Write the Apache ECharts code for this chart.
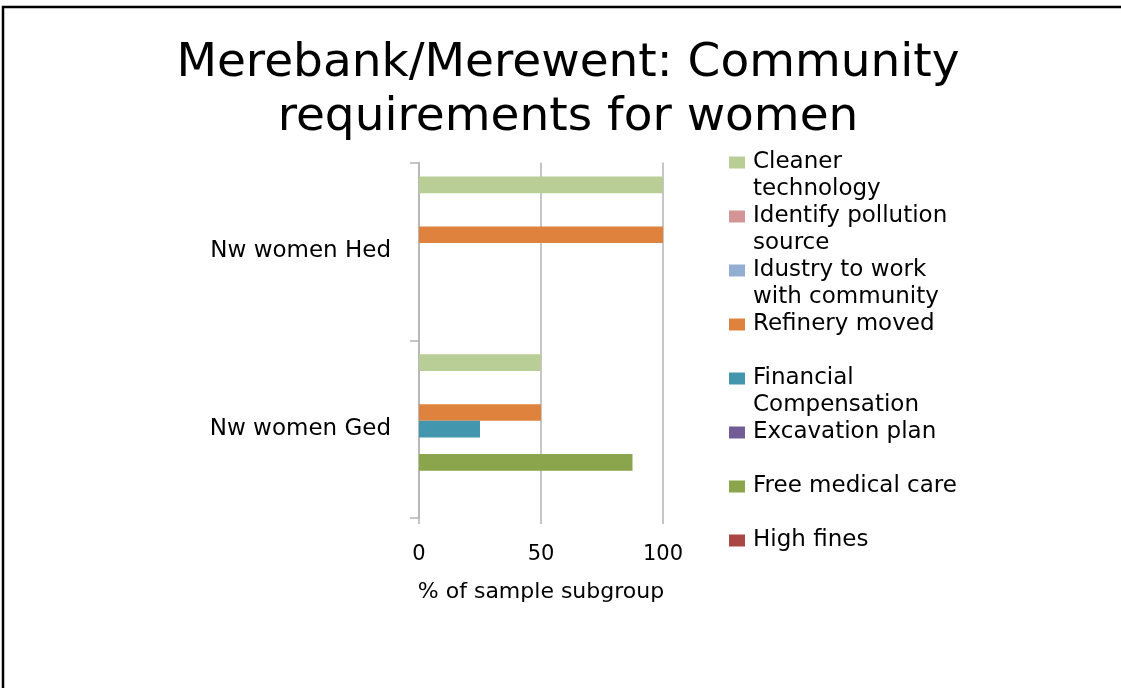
<!DOCTYPE html>
<html>
<head>
<meta charset="utf-8">
<title>Merebank/Merewent: Community requirements for women</title>
<script src="https://cdn.jsdelivr.net/npm/echarts@6/dist/echarts.min.js"></script>
<style>
  html, body { margin: 0; padding: 0; background: #fff; }
  #chart { width: 1121px; height: 688px; }
</style>
</head>
<body>
<div id="chart"></div>
<script>
// categories, bottom to top
var categories = ["Nw women Ged", "Nw women Hed"];

var seriesNames = [
  "Cleaner technology",
  "Identify pollution source",
  "Idustry to work with community",
  "Refinery moved",
  "Financial Compensation",
  "Excavation plan",
  "Free medical care",
  "High fines"
];
// legend text as wrapped in the original
var legendLabels = [
  "Cleaner\ntechnology",
  "Identify pollution\nsource",
  "Idustry to work\nwith community",
  "Refinery moved\n ",
  "Financial\nCompensation",
  "Excavation plan\n ",
  "Free medical care\n ",
  "High fines\n "
];

// % of sample subgroup, [Ged, Hed]
var cleanerTechnology = [50, 100];
var identifyPollution = [0, 0];
var industryWithCommunity = [0, 0];
var refineryMoved = [50, 100];
var financialCompensation = [25, 0];
var excavationPlan = [0, 0];
var freeMedicalCare = [87.5, 0];
var highFines = [0, 0];

var xTicks = [0, 50, 100];

var colors = ["#B9CE97", "#D39595", "#94ADD2", "#DE823E", "#4297AF", "#735B95", "#8AA54C", "#AA4643"];
var FONT = "DejaVu Sans";
var GRID_LINE = "#B3B3B3";

var values = [cleanerTechnology, identifyPollution, industryWithCommunity, refineryMoved,
  financialCompensation, excavationPlan, freeMedicalCare, highFines];

var series = seriesNames.map(function (name, i) {
  return {
    name: name,
    type: "bar",
    data: values[i],
    barGap: "0%",
    barCategoryGap: "15.8%",
    itemStyle: { color: colors[i] }
  };
});
// the original keeps one empty slot at the end of each group
series.push({ name: "blank", type: "bar", data: [], silent: true });

var chart = echarts.init(document.getElementById("chart"));

var option = {
  animation: false,
  backgroundColor: "#fff",
  title: {
    text: "Merebank/Merewent: Community\nrequirements for women",
    left: 568,
    top: 37,
    textAlign: "center",
    padding: 0,
    textStyle: { fontFamily: FONT, fontSize: 47, fontWeight: "normal", lineHeight: 54, color: "#000" }
  },
  legend: {
    orient: "vertical",
    left: 729,
    top: 122,
    padding: 0,
    itemGap: -27,
    itemWidth: 16,
    itemHeight: 12,
    icon: "rect",
    selectedMode: false,
    data: seriesNames,
    // blank first line keeps the square level with the first text line
    formatter: function (name) {
      return " \n" + legendLabels[seriesNames.indexOf(name)];
    },
    textStyle: { fontFamily: FONT, fontSize: 23, lineHeight: 27, color: "#000", padding: [0, 0, 0, 3] }
  },
  grid: {
    left: 419,
    right: 458,
    top: 162.5,
    bottom: 170,
    containLabel: false,
    outerBoundsMode: "none"
  },
  xAxis: {
    type: "value",
    min: xTicks[0],
    max: xTicks[xTicks.length - 1],
    interval: xTicks[1] - xTicks[0],
    name: "% of sample subgroup",
    nameLocation: "middle",
    nameGap: 63,
    nameTextStyle: { fontFamily: FONT, fontSize: 22, color: "#000" },
    axisLine: { show: false },
    axisTick: { show: true, length: 6, lineStyle: { color: GRID_LINE, width: 1.5 } },
    axisLabel: { margin: 26, fontFamily: FONT, fontSize: 21, color: "#000" },
    splitLine: { show: true, lineStyle: { color: GRID_LINE, width: 1.5 } }
  },
  yAxis: {
    type: "category",
    data: categories,
    axisLine: { show: true, lineStyle: { color: GRID_LINE, width: 1.5 } },
    axisTick: { show: true, length: 9, lineStyle: { color: GRID_LINE, width: 1.5 } },
    axisLabel: { margin: 28, fontFamily: FONT, fontSize: 23, color: "#000" },
    splitLine: { show: false }
  },
  graphic: [{
    type: "rect",
    silent: true,
    z: 100,
    shape: { x: 3, y: 7, width: 1300, height: 900 },
    style: { fill: "none", stroke: "#000", lineWidth: 2.5 }
  }],
  series: series
};

chart.setOption(option);
window.onresize = function () {
  chart.resize();
};
</script>
</body>
</html>
